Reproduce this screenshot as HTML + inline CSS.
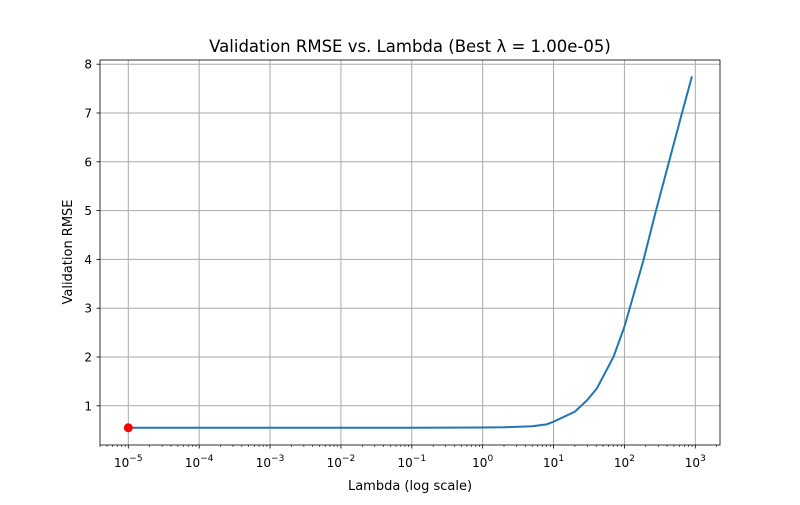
<!DOCTYPE html>
<html><head><meta charset="utf-8"><style>
body{margin:0;background:#fff;}
svg text{font-family:"DejaVu Sans","Liberation Sans",sans-serif;fill:#000;}
</style></head><body>
<svg id="chart" width="800" height="500" viewBox="0 0 800 500" xmlns="http://www.w3.org/2000/svg">
<rect width="800" height="500" fill="#fff"/>
<g id="grid"></g>
<g id="ticks"></g>
<g id="series"></g>
<rect x="100" y="60" width="620" height="385" fill="none" stroke="#000" stroke-width="0.8"/>
<text x="410" y="52" font-size="16.5" text-anchor="middle">Validation RMSE vs. Lambda (Best λ = 1.00e-05)</text>
<text x="410" y="490" font-size="13" text-anchor="middle">Lambda (log scale)</text>
<text x="0" y="0" font-size="13" text-anchor="middle" transform="translate(72,252) rotate(-90)">Validation RMSE</text>
</svg>
<script>
const lambdas=[1e-5,1e-4,1e-3,1e-2,1e-1,1,2,5,8,10,20,30,41,70,100,186,272,444,646,897];
const rmse=[0.55,0.55,0.55,0.55,0.55,0.555,0.56,0.58,0.62,0.674,0.88,1.12,1.36,2.0,2.62,3.99,4.94,6.10,6.99,7.75];
const xTickExps=[-5,-4,-3,-2,-1,0,1,2,3];
const yTicks=[1,2,3,4,5,6,7,8];
const bestLambda=1e-5, bestRmse=0.55;
const NS="http://www.w3.org/2000/svg";
const X0=128.3, XD=70.875, Y1=405.8, YU=48.8;
const xs=v=>X0+(Math.log10(v)+5)*XD;
const ys=v=>Y1-(v-1)*YU;
function mk(tag,attrs,parent){const e=document.createElementNS(NS,tag);for(const k in attrs)e.setAttribute(k,attrs[k]);parent.appendChild(e);return e;}
const grid=document.getElementById('grid'),ticks=document.getElementById('ticks'),series=document.getElementById('series');
xTickExps.forEach(p=>{
 const x=xs(Math.pow(10,p));
 const g=mk('line',{x1:x,x2:x,y1:60,y2:445,stroke:'#aaaaaa','stroke-width':1},grid);
 
 
 mk('line',{x1:x,x2:x,y1:445,y2:448.5,stroke:'#000','stroke-width':0.8},ticks);
 const t=mk('text',{x:x,y:467,'font-size':12,'text-anchor':'middle'},ticks);
 
 
 t.textContent='10';
 const s=mk('tspan',{dy:-6,'font-size':9},t);s.textContent=(p<0?'−':'')+Math.abs(p);
 for(let m=2;m<=9;m++){const v=Math.pow(10,p)*m, xm=xs(v); if(xm<100||xm>720)continue;
  mk('line',{x1:xm,x2:xm,y1:445,y2:447,stroke:'#000','stroke-width':0.6},ticks);}
 if(p===-5){for(let m=2;m<=9;m++){const xm=xs(1e-6*m); if(xm>100) mk('line',{x1:xm,x2:xm,y1:445,y2:447,stroke:'#000','stroke-width':0.6},ticks);}}
});
yTicks.forEach(v=>{
 const y=ys(v);
 const g=mk('line',{x1:100,x2:720,y1:y,y2:y,stroke:'#aaaaaa','stroke-width':1},grid);
 
 
 mk('line',{x1:96.5,x2:100,y1:y,y2:y,stroke:'#000','stroke-width':0.8},ticks);
 const t=mk('text',{x:92,y:y+4.5,'font-size':12,'text-anchor':'end'},ticks);
 
 
 t.textContent=v;
});
const line=mk('polyline',{points:lambdas.map((l,i)=>xs(l)+','+ys(rmse[i])).join(' '),fill:'none',stroke:'#1f77b4','stroke-width':2},series);


const pt=mk('circle',{cx:xs(bestLambda),cy:ys(bestRmse),r:4.5,fill:'#ff0000'},series);


</script>
</body></html>
